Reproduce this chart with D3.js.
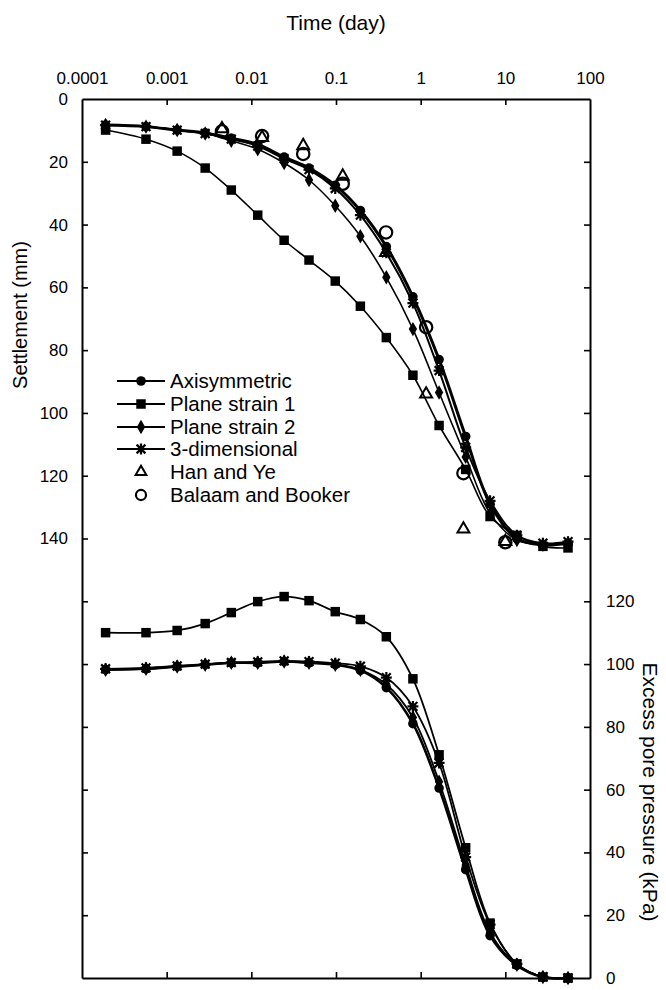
<!DOCTYPE html>
<html><head><meta charset="utf-8">
<script src="https://cdn.jsdelivr.net/npm/d3@7"></script>
<style>
body{margin:0;background:#fff}
svg{display:block}
text{font-family:"Liberation Sans",Arial,Helvetica,sans-serif;fill:#000}
</style>
</head><body>
<svg id="chart" width="666" height="990"></svg>
<script>
// ---- data ----
const timeDays = [0.00019, 0.00057, 0.00133, 0.00285, 0.0058, 0.0119, 0.0244, 0.048, 0.098, 0.194, 0.393, 0.81, 1.65, 3.4, 6.6, 13.7, 27.8, 55];

const settleAxi = [8.3, 8.8, 9.9, 10.8, 12.5, 14.5, 18.5, 22, 27.5, 35.5, 47, 63, 83, 107.5, 129, 140, 142, 141.5];
const settlePS1 = [9.9, 12.8, 16.6, 22, 29, 37, 45, 51.3, 58, 66, 76, 88, 104, 118, 133, 139, 142.5, 143];
const settlePS2 = [8.3, 8.8, 9.9, 11, 13.3, 16, 20.4, 25.8, 34, 43.7, 56.8, 73.3, 93.5, 114, 132, 140.5, 142, 141.5];
const settle3D  = [8.3, 8.8, 9.9, 11, 12.8, 15, 19, 22.5, 28.5, 37, 49, 65, 86.5, 111, 128, 139, 141.5, 141];

const poreAxi = [98.2, 98.5, 99.2, 99.8, 100.4, 100.4, 100.8, 100.4, 99.8, 98, 92.5, 81, 60.5, 34.5, 13.5, 4, 0.3, 0];
const porePS1 = [110, 110, 110.7, 112.9, 116.4, 119.9, 121.5, 120.2, 116.7, 114.2, 108.7, 95.3, 71.1, 41.5, 17.5, 4.5, 0.3, 0];
const porePS2 = [98.2, 98.5, 99.2, 99.8, 100.4, 100.4, 100.8, 100.4, 99.8, 98.2, 93.5, 83, 62.5, 36, 14.5, 4.2, 0.3, 0];
const pore3D  = [98.5, 98.8, 99.4, 100, 100.5, 100.7, 101, 100.8, 100.3, 99.3, 95.7, 86.5, 68.5, 38.5, 17, 4.5, 0.4, 0];

const hanTime   = [0.0045, 0.0134, 0.041, 0.12, 0.39, 1.16, 3.2, 10];
const hanSettle = [9.5, 12.3, 14.9, 24.6, 48.9, 94, 137, 141];
const balTime   = [0.0045, 0.0134, 0.041, 0.12, 0.39, 1.16, 3.2, 10];
const balSettle = [10.3, 11.8, 17.5, 27, 42.5, 72.7, 119.2, 141.2];

const xTickValues = [0.0001, 0.001, 0.01, 0.1, 1, 10, 100];
const xTickLabels = ["0.0001", "0.001", "0.01", "0.1", "1", "10", "100"];
const settleTicks = [0,20,40,60,80,100,120,140,160,180,200,220,240,260,280];
const settleLabels = ["0","20","40","60","80","100","120","140","","","","","","",""];
const poreTicks = [0,20,40,60,80,100,120,140,160,180,200,220,240,260,280];
const poreLabels = ["0","20","40","60","80","100","120","","","","","","","",""];

const legendNames = ["Axisymmetric","Plane strain 1","Plane strain 2","3-dimensional","Han and Ye","Balaam and Booker"];

// ---- chart ----
const svg = d3.select("#chart");
const L = 82, R = 590, T = 99, B = 978;
const x = d3.scaleLog().domain([1e-4, 100]).range([L, R]);
const yS = d3.scaleLinear().domain([0, 280]).range([T, B]);
const yP = d3.scaleLinear().domain([0, 280]).range([B, T]);

// axes
function styleAxis(g){
  g.select(".domain").attr("stroke","#000").attr("stroke-width",2);
  g.selectAll(".tick line").attr("stroke","#000").attr("stroke-width",1.6);
  g.selectAll(".tick text").attr("font-size","17px").attr("font-family",'"Liberation Sans",Arial,sans-serif').attr("fill","#000");
}
const gTop = svg.append("g").attr("transform",`translate(0,${T})`)
  .call(d3.axisTop(x).tickValues(xTickValues).tickSizeInner(-6).tickSizeOuter(0).tickPadding(15)
    .tickFormat((d,i)=>xTickLabels[i]));
styleAxis(gTop);
const gBot = svg.append("g").attr("transform",`translate(0,${B})`)
  .call(d3.axisBottom(x).tickValues(xTickValues).tickSizeInner(-6).tickSizeOuter(0).tickFormat(""));
styleAxis(gBot);
const gLeft = svg.append("g").attr("transform",`translate(${L},0)`)
  .call(d3.axisLeft(yS).tickValues(settleTicks).tickSizeInner(-6).tickSizeOuter(0).tickPadding(14)
    .tickFormat((d,i)=>settleLabels[i]));
styleAxis(gLeft);
const gRight = svg.append("g").attr("transform",`translate(${R},0)`)
  .call(d3.axisRight(yP).tickValues(poreTicks).tickSizeInner(-6).tickSizeOuter(0).tickPadding(16)
    .tickFormat((d,i)=>poreLabels[i]));
styleAxis(gRight);
// hide end ticks duplicating frame corners
gTop.selectAll(".tick line").filter(d=>d===1e-4||d===100).remove();
gBot.selectAll(".tick line").filter(d=>d===1e-4||d===100).remove();
gLeft.selectAll(".tick line").filter(d=>d===0||d===280).remove();
gRight.selectAll(".tick line").filter(d=>d===0||d===280).remove();

// titles
svg.append("text").attr("x",(L+R)/2).attr("y",30).attr("text-anchor","middle")
  .attr("font-size","21px").text("Time (day)");
svg.append("text").attr("transform",`translate(27,315) rotate(-90)`).attr("text-anchor","middle")
  .attr("font-size","20px").text("Settlement (mm)");
svg.append("text").attr("transform",`translate(643,792) rotate(90)`).attr("text-anchor","middle")
  .attr("font-size","21px").text("Excess pore pressure (kPa)");

// markers
const sym = {
  circle: d3.symbol().type(d3.symbolCircle).size(72),
  square: d3.symbol().type(d3.symbolSquare).size(90),
  diamond: d3.symbol().type(d3.symbolDiamond).size(60),
  triangle: d3.symbol().type(d3.symbolTriangle).size(62),
  ocircle: d3.symbol().type(d3.symbolCircle).size(120)
};
function asteriskPath(r){
  const a = r*0.8;
  return `M${-a},${-a}L${a},${a}M${-a},${a}L${a},${-a}M0,${-r}L0,${r}M${-r},0L${r},0`;
}

const curve = d3.curveCatmullRom.alpha(0.5);
function drawSeries(vals, yScale, lw, marker){
  const pts = timeDays.map((t,i)=>[x(t), yScale(vals[i])]);
  svg.append("path").datum(pts).attr("fill","none").attr("stroke","#000").attr("stroke-width",lw)
    .attr("d", d3.line().curve(curve));
  const g = svg.append("g");
  pts.forEach(p=>{
    if(marker==="asterisk"){
      g.append("path").attr("d",asteriskPath(5.5)).attr("transform",`translate(${p[0]},${p[1]})`)
        .attr("stroke","#000").attr("stroke-width",2.2).attr("fill","none");
    } else {
      g.append("path").attr("d",sym[marker]()).attr("transform",`translate(${p[0]},${p[1]})`).attr("fill","#000");
    }
  });
}

// settlement (top)
drawSeries(settlePS1, yS, 1.6, "square");
drawSeries(settlePS2, yS, 1.6, "diamond");
drawSeries(settle3D, yS, 2, "asterisk");
drawSeries(settleAxi, yS, 3, "circle");
// pore pressure (bottom)
drawSeries(porePS1, yP, 1.8, "square");
drawSeries(porePS2, yP, 1.8, "diamond");
drawSeries(pore3D, yP, 1.8, "asterisk");
drawSeries(poreAxi, yP, 2.6, "circle");

// analytical points
hanTime.forEach((t,i)=>{
  svg.append("path").attr("d",sym.triangle()).attr("transform",`translate(${x(t)},${yS(hanSettle[i])})`)
    .attr("fill","#fff").attr("fill-opacity",0).attr("stroke","#000").attr("stroke-width",2);
});
balTime.forEach((t,i)=>{
  svg.append("path").attr("d",sym.ocircle()).attr("transform",`translate(${x(t)},${yS(balSettle[i])})`)
    .attr("fill","none").attr("stroke","#000").attr("stroke-width",2.2);
});

// legend
const lgX0 = 117, lgX1 = 165, lgMx = 141, lgTx = 170;
const lgY = [381, 404, 427, 449, 472, 495];
const lgMarkers = ["circle","square","diamond","asterisk","triangle","ocircle"];
legendNames.forEach((name,i)=>{
  const y = lgY[i];
  if(i<4){
    svg.append("line").attr("x1",lgX0).attr("x2",lgX1).attr("y1",y).attr("y2",y)
      .attr("stroke","#000").attr("stroke-width",2);
  }
  const m = lgMarkers[i];
  if(m==="asterisk"){
    svg.append("path").attr("d",asteriskPath(5.5)).attr("transform",`translate(${lgMx},${y})`)
      .attr("stroke","#000").attr("stroke-width",2.2).attr("fill","none");
  } else if(m==="triangle"){
    svg.append("path").attr("d",d3.symbol().type(d3.symbolTriangle).size(50)()).attr("transform",`translate(${lgMx},${y})`)
      .attr("fill","none").attr("stroke","#000").attr("stroke-width",2);
  } else if(m==="ocircle"){
    svg.append("path").attr("d",d3.symbol().type(d3.symbolCircle).size(80)()).attr("transform",`translate(${lgMx},${y})`)
      .attr("fill","none").attr("stroke","#000").attr("stroke-width",2.2);
  } else {
    svg.append("path").attr("d",sym[m]()).attr("transform",`translate(${lgMx},${y})`).attr("fill","#000");
  }
  svg.append("text").attr("x",lgTx).attr("y",y).attr("dy","0.36em").attr("font-size","20.5px").text(name);
});
</script>
</body></html>
